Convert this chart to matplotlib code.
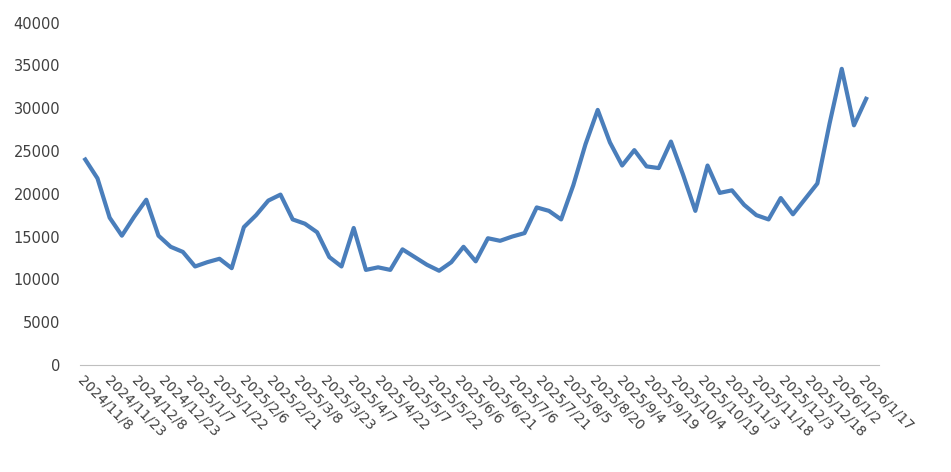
import numpy as np
import matplotlib.pyplot as plt

values = [24000, 21800, 17200, 15100, 17300, 19300, 15100, 13800, 13200, 11500,
          12000, 12400, 11300, 16100, 17500, 19200, 19900, 17000, 16500, 15500,
          12600, 11500, 16000, 11100, 11400, 11100, 13500, 12600, 11700, 11000,
          12000, 13800, 12100, 14800, 14500, 15000, 15400, 18400, 18000, 17000,
          21000, 25800, 29800, 26000, 23300, 25100, 23200, 23000, 26100, 22200,
          18000, 23300, 20100, 20400, 18700, 17500, 17000, 19500, 17600, 19400,
          21200, 28200, 34600, 28000, 31100]
tick_labels = ["2024/11/8", "2024/11/23", "2024/12/8", "2024/12/23", "2025/1/7",
               "2025/1/22", "2025/2/6", "2025/2/21", "2025/3/8", "2025/3/23",
               "2025/4/7", "2025/4/22", "2025/5/7", "2025/5/22", "2025/6/6",
               "2025/6/21", "2025/7/6", "2025/7/21", "2025/8/5", "2025/8/20",
               "2025/9/4", "2025/9/19", "2025/10/4", "2025/10/19", "2025/11/3",
               "2025/11/18", "2025/12/3", "2025/12/18", "2026/1/2", "2026/1/17"]
total_days = 435

days = np.linspace(0, total_days, len(values))
tick_pos = np.arange(len(tick_labels)) * 15

fig = plt.figure(figsize=(9.51, 4.72), dpi=100)
ax = fig.add_axes([0.084, 0.227, 0.84, 0.725])
ax.plot(days, values, color="#4A7EBB", lw=3, solid_joinstyle="round")
ax.set_xlim(-3, total_days + 7)
ax.set_ylim(0, 40000)
ax.set_yticks(range(0, 40001, 5000))
ax.set_xticks(tick_pos)
ax.set_xticklabels(tick_labels, rotation=-45, ha="left", rotation_mode="anchor",
                   fontsize=10, color="#404040")
ax.tick_params(axis="y", labelsize=10.5, labelcolor="#404040", length=0, pad=14)
ax.tick_params(axis="x", length=0, pad=6)
for s in ["top", "right", "left"]:
    ax.spines[s].set_visible(False)
ax.spines["bottom"].set_color("#BFBFBF")

fig.savefig("out.png", dpi=100)
